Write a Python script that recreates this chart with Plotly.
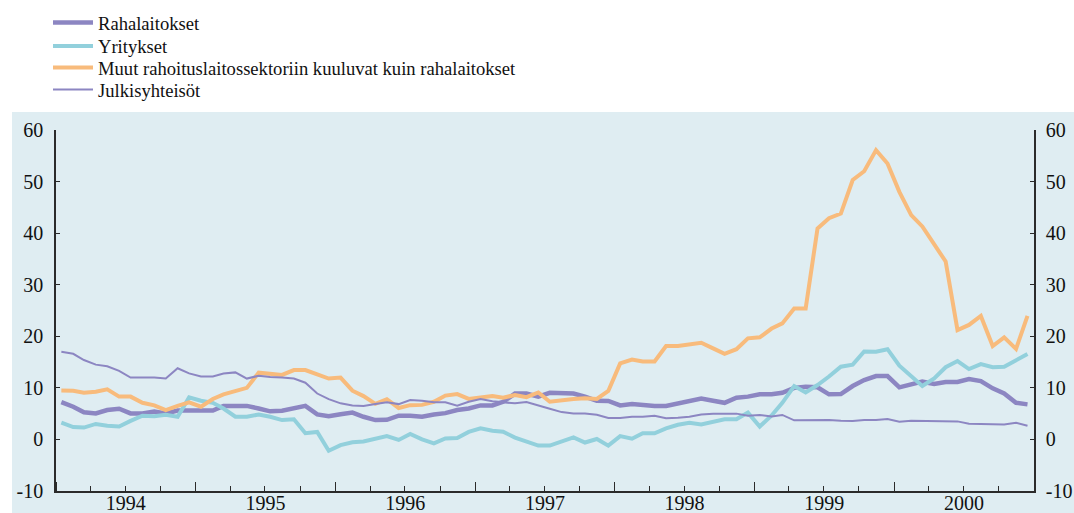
import pandas as pd
import plotly.graph_objects as go

# Monthly observations, Jan 1994 - Dec 2000 (plotted at mid-month)
months = pd.date_range("1994-01-01", periods=84, freq="MS") + pd.Timedelta(days=14)

rahalaitokset = [
    7.25, 6.35, 5.25, 5.05, 5.7, 5.95, 5.05, 5.05, 5.4, 5.05, 5.6, 5.6,
    5.7, 5.6, 6.5, 6.6, 6.5, 6.0, 5.45, 5.55, 5.95, 6.5, 4.85, 4.5,
    4.9, 5.2, 4.4, 3.75, 3.8, 4.6, 4.6, 4.4, 4.85, 5.1, 5.7, 6.0,
    6.6, 6.6, 7.3, 8.9, 8.9, 8.3, 9.05, 8.9, 8.9, 8.3, 7.5, 7.45,
    6.6, 6.85, 6.6, 6.5, 6.5, 7.0, 7.5, 7.95, 7.5, 7.1, 8.1, 8.3,
    8.75, 8.75, 9.05, 10.0, 10.2, 10.1, 8.75, 8.8, 10.35, 11.5, 12.3, 12.3,
    10.1, 10.75, 11.2, 10.75, 11.15, 11.15, 11.7, 11.3, 9.9, 8.9, 7.1, 6.8,
]

yritykset = [
    3.25, 2.4, 2.3, 3.0, 2.65, 2.5, 3.6, 4.6, 4.5, 4.8, 4.4, 8.15,
    7.5, 7.1, 6.0, 4.4, 4.4, 4.85, 4.4, 3.75, 3.9, 1.2, 1.45, -2.2,
    -1.1, -0.55, -0.4, 0.15, 0.65, -0.1, 1.05, 0.0, -0.75, 0.2, 0.27, 1.45,
    2.15, 1.7, 1.5, 0.35, -0.45, -1.2, -1.2, -0.45, 0.4, -0.6, 0.08, -1.2,
    0.65, 0.15, 1.2, 1.2, 2.15, 2.85, 3.25, 2.9, 3.4, 3.9, 3.9, 5.2,
    2.5, 4.65, 7.1, 10.35, 9.1, 10.55, 12.2, 14.1, 14.5, 17.05, 17.0, 17.5,
    14.3, 12.15, 10.35, 11.85, 14.0, 15.2, 13.65, 14.6, 14.0, 14.1, 15.4, 16.55,
]

muut = [
    9.5, 9.45, 9.06, 9.25, 9.7, 8.3, 8.3, 7.1, 6.6, 5.7, 6.5, 7.2,
    6.35, 7.84, 8.75, 9.45, 10.0, 12.95, 12.75, 12.5, 13.45, 13.45, 12.6, 11.8,
    12.0, 9.45, 8.4, 6.9, 7.8, 6.1, 6.65, 6.7, 7.3, 8.5, 8.8, 7.85,
    8.15, 8.4, 8.1, 8.6, 8.2, 9.1, 7.3, 7.65, 7.85, 8.0, 7.85, 9.4,
    14.75, 15.5, 15.1, 15.1, 18.1, 18.1, 18.5, 18.75, 17.65, 16.6, 17.5, 19.6,
    19.8, 21.5, 22.5, 25.4, 25.4, 40.9, 42.9, 43.8, 50.3, 52.0, 56.1, 53.5,
    48.0, 43.5, 41.3, 38.0, 34.5, 21.2, 22.2, 23.95, 18.1, 19.8, 17.55, 23.95,
]

julkisyhteisot = [
    17.0, 16.6, 15.4, 14.5, 14.2, 13.3, 12.0, 12.0, 12.0, 11.8, 13.8, 12.8,
    12.2, 12.2, 12.8, 13.0, 11.8, 12.35, 12.1, 12.0, 11.8, 11.0, 8.9, 7.8,
    7.0, 6.6, 6.5, 6.85, 7.2, 6.85, 7.65, 7.5, 7.2, 7.2, 6.55, 7.3,
    7.85, 7.4, 7.15, 7.0, 7.25, 6.65, 5.95, 5.3, 5.05, 5.05, 4.8, 4.15,
    4.15, 4.4, 4.4, 4.6, 4.1, 4.2, 4.4, 4.85, 5.0, 5.0, 5.0, 4.6,
    4.75, 4.45, 4.75, 3.7, 3.75, 3.75, 3.75, 3.6, 3.55, 3.75, 3.75, 3.95,
    3.45, 3.6, 3.55, 3.6, 3.45, 3.5, 3.05, 3.0, 3.0, 2.9, 3.25, 2.65,
]

series_names = [
    "Rahalaitokset",
    "Yritykset",
    "Muut rahoituslaitossektoriin kuuluvat kuin rahalaitokset",
    "Julkisyhteisöt",
]
y_tick_values = [-10, 0, 10, 20, 30, 40, 50, 60]
y_tick_text = ["-10", "0", "10", "20", "30", "40", "50", "60"]

BG = "#dfedf2"
AX = "#2b2b2b"
FONT = "Liberation Serif"
TXT = "#111111"

W, H = 1074, 513
ML, MR, MT, MB = 56, 40, 130, 22
PW, PH = W - ML - MR, H - MT - MB

fig = go.Figure()
styles = [
    (rahalaitokset, "#8c86c2", 4.5),
    (yritykset, "#92d0dc", 4),
    (muut, "#f8bb7c", 4),
    (julkisyhteisot, "#8c86c2", 2),
]
legend_ids = ["legend", "legend2", "legend3", "legend4"]
for name, (vals, color, width), lg in zip(series_names, styles, legend_ids):
    fig.add_trace(go.Scatter(
        x=months, y=vals, name=name, mode="lines", legend=lg,
        line=dict(color=color, width=width),
    ))

# invisible companion trace so the right-hand axis is drawn
fig.add_trace(go.Scatter(
    x=months, y=julkisyhteisot, yaxis="y2", mode="lines",
    line=dict(width=0), opacity=0, showlegend=False, hoverinfo="skip",
))

# light blue panel behind the plot
fig.add_shape(type="rect", xref="paper", yref="paper",
              x0=(12 - ML) / PW, x1=(W + 10 - ML) / PW,
              y0=-0.1, y1=(MT + PH - 112) / PH,
              fillcolor=BG, line=dict(width=0), layer="below")

yaxis_common = dict(
    range=[-10, 60], tickvals=y_tick_values, ticktext=y_tick_text,
    ticks="inside", ticklen=4,
    tickcolor=AX, showline=True, linecolor=AX, linewidth=1.5,
    showgrid=False, zeroline=False, automargin=False,
    tickfont=dict(family=FONT, size=20, color=TXT),
)

legend_common = dict(
    xanchor="left", yanchor="middle", bgcolor="rgba(0,0,0,0)",
    font=dict(family=FONT, size=18.6, color=TXT), itemwidth=40,
)
row_px = [23, 46.5, 68, 90]
legend_layout = {}
for lg, py in zip(legend_ids, row_px):
    legend_layout[lg] = dict(x=(48 - ML) / PW, y=(MT + PH - py) / PH, **legend_common)

fig.update_layout(
    width=W, height=H,
    margin=dict(l=ML, r=MR, t=MT, b=MB, autoexpand=False),
    paper_bgcolor="white", plot_bgcolor=BG,
    font=dict(family=FONT, color=TXT),
    showlegend=True,
    xaxis=dict(
        type="date", range=["1994-01-01", "2001-01-01"],
        tick0="1994-01-01", dtick="M12", tickformat="%Y",
        ticklabelmode="period", ticks="inside", ticklen=9, tickcolor=AX,
        showline=True, linecolor=AX, linewidth=1.5, showgrid=False,
        automargin=False, ticklabelstandoff=-7,
        tickfont=dict(family=FONT, size=20, color=TXT),
        minor=dict(dtick="M3", ticks="inside", ticklen=5, tickcolor=AX, showgrid=False),
    ),
    yaxis=dict(side="left", ticklabelstandoff=7, **yaxis_common),
    yaxis2=dict(side="right", overlaying="y", anchor="x", ticklabelstandoff=6, **yaxis_common),
    **legend_layout,
)

# remove the default page margin so the figure fills the window exactly
fig.write_html(
    "out.html",
    config={"displayModeBar": False},
    post_script="document.body.style.margin='0';document.body.style.overflow='hidden';",
)
